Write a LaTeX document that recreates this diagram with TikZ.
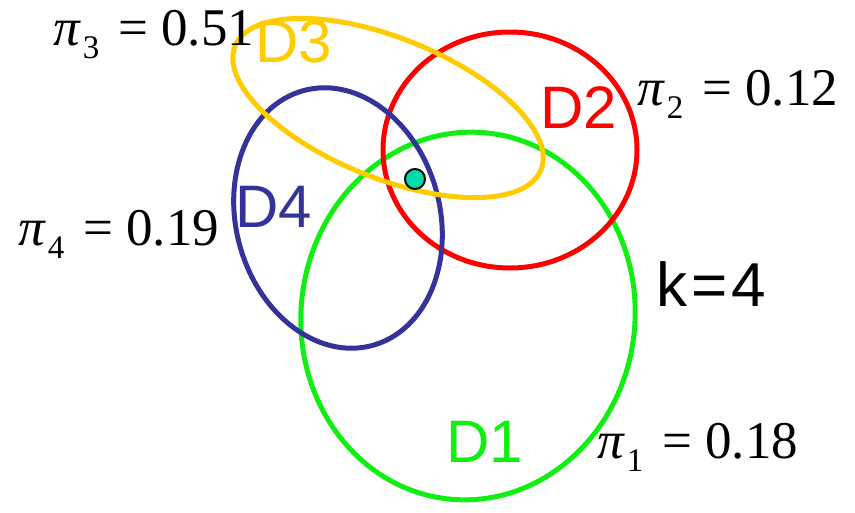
\documentclass[tikz,border=0pt]{standalone}
\usepackage{fontspec}
\setmainfont{Liberation Serif}
\setsansfont{Liberation Sans}
\usetikzlibrary{positioning, calc}

\definecolor{dgreen}{HTML}{11EE11}
\definecolor{dred}{HTML}{FF0000}
\definecolor{dyellow}{HTML}{FFCC00}
\definecolor{dblue}{HTML}{333399}
\definecolor{dteal}{HTML}{00DDAA}

% mixing weight: pi_#1 = #2
\newcommand{\mixw}[2]{\textit{π}\hspace{2pt}\raisebox{-13pt}{\fontsize{33}{33}\selectfont #1}\hspace{19pt}=\hspace{13pt}#2}

\tikzset{
  cluster/.style={line width=5pt},
  dlabel/.style={font=\sffamily\fontsize{60}{60}\selectfont, inner sep=0pt},
  weight/.style={font=\fontsize{53}{53}\selectfont, inner sep=0pt, anchor=base west}
}

\begin{document}
\begin{tikzpicture}[x=1pt, y=-1pt]
    \useasboundingbox (0,0) rectangle (855,512);

    % --- Clusters ---
    \draw[cluster, dgreen] (468,316) ellipse [x radius=167, y radius=184, rotate=-6];
    \draw[cluster, dred] (510,150) ellipse [x radius=127, y radius=118];
    \draw[cluster, dblue] (338,218) ellipse [x radius=102, y radius=132, rotate=15];
    \draw[cluster, dyellow] (388,108) ellipse [x radius=165, y radius=70, rotate=-22];

    % --- Cluster names ---
    \node[dlabel, text=dgreen] (d1) at (485,442) {D1};
    \node[dlabel, text=dred] (d2) at (579,108) {D2};
    \node[dlabel, text=dyellow] (d3) at (294,42) {D3};
    \node[dlabel, text=dblue] (d4) at (274,207) {D4};

    % --- Mixing weights ---
    \node[weight] (w1) at (597,458) {\mixw{1}{0.18}};
    \node[weight] (w2) at (637,105) {\mixw{2}{0.12}};
    \node[weight] (w3) at (53,45) {\mixw{3}{0.51}};
    \node[weight] (w4) at (18,245) {\mixw{4}{0.19}};

    % --- Number of clusters ---
    \node[dlabel, font=\sffamily\fontsize{62}{62}\selectfont] (k) at (711,284) {k\hspace{4pt}=\hspace{4pt}4};

    % --- Data point ---
    \node[circle, draw=black, line width=2pt, fill=dteal, minimum size=20pt, inner sep=0pt] (x) at (415,179) {};

\end{tikzpicture}
\end{document}
